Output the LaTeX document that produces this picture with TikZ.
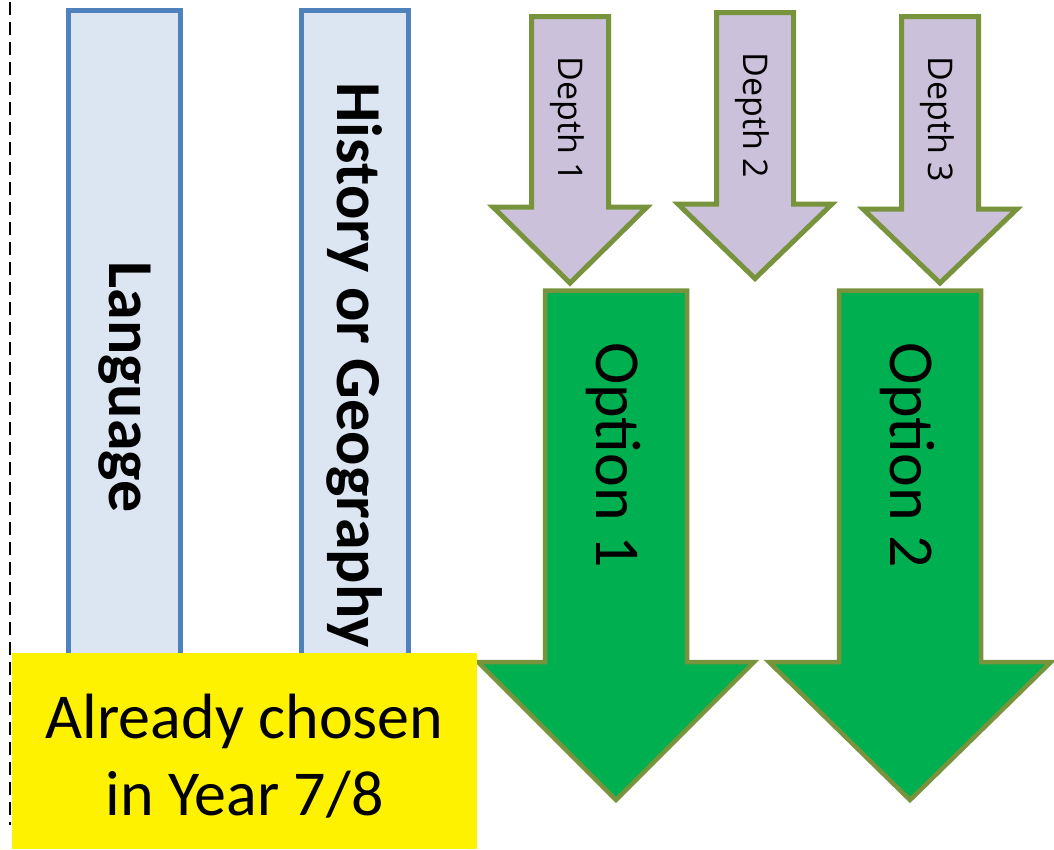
\documentclass[tikz,border=0pt]{standalone}
\usepackage{fontspec}
\setmainfont{Carlito}
\newfontfamily\depthfont{Open Sans}
\definecolor{subjblue}{HTML}{4F81BD}
\definecolor{subjfill}{HTML}{DCE6F2}
\definecolor{arrowedge}{HTML}{77933C}
\definecolor{depthfill}{HTML}{CCC1DA}
\definecolor{optionfill}{HTML}{00B050}
\begin{document}
\begin{tikzpicture}[x=1pt, y=-1pt,
    subject/.style={draw=subjblue, fill=subjfill, line width=5pt},
    subjtext/.style={rotate=-90, inner sep=0pt, font=\fontsize{64}{70}\selectfont\bfseries},
    deptharrow/.style={draw=arrowedge, fill=depthfill, line width=5pt},
    depthtext/.style={rotate=-90, inner sep=0pt, font=\fontsize{34}{40}\depthfont},
    optarrow/.style={draw=arrowedge, fill=optionfill, line width=4.5pt},
    opttext/.style={rotate=-90, inner sep=0pt, font=\fontsize{64}{70}\selectfont},
    chosenbox/.style={fill=yellow, inner sep=0pt},
    chosentext/.style={align=center, inner sep=0pt, font=\fontsize{64}{77}\selectfont}]
    \useasboundingbox (0,0) rectangle (1054,849);

    % Trait pointillé à gauche
    \draw[line width=1.5pt, dash pattern=on 13pt off 7pt] (10,2) -- (10,825);

    % Matières déjà choisies
    \draw[subject] (68.5,10.5) rectangle (180.5,662);
    \node[subjtext] (language) at (125,387) {Language};
    \draw[subject] (301.5,10.5) rectangle (408.5,662);
    \node[subjtext] (histgeo) at (355,365) {History or Geography};

    % Flèches violettes : centre / haut / base / pointe / nom / texte
    \foreach \cx/\top/\base/\tip/\name/\lbl in {
        570/16.5/207/283/depthone/{Depth 1},
        755/12.5/204/278.5/depthtwo/{Depth 2},
        940/16.5/209/283/depththree/{Depth 3}
    }{
        \draw[deptharrow] (\cx-38.5,\top) -- (\cx+38.5,\top) -- (\cx+38.5,\base)
            -- (\cx+77,\base) -- (\cx,\tip) -- (\cx-77,\base) -- (\cx-38.5,\base) -- cycle;
        \node[depthtext] (\name) at (\cx-3,\top+103) {\lbl};
    }

    % Flèches vertes
    \foreach \cx/\hw/\name/\lbl in {
        616/138/optone/{Option 1},
        910/141/opttwo/{Option 2}
    }{
        \draw[optarrow] (\cx-71,290.5) -- (\cx+71,290.5) -- (\cx+71,662)
            -- (\cx+\hw,662) -- (\cx,800) -- (\cx-\hw,662) -- (\cx-71,662) -- cycle;
        \node[opttext] (\name) at (\cx-3,455) {\lbl};
    }

    % Cadre jaune
    \node[chosenbox, minimum width=465pt, minimum height=196pt] (chosenbg) at (244.5,751) {};
    \node[chosentext] (chosen) at (244.5,756) {Already chosen\\in Year 7/8};

\end{tikzpicture}
\end{document}
